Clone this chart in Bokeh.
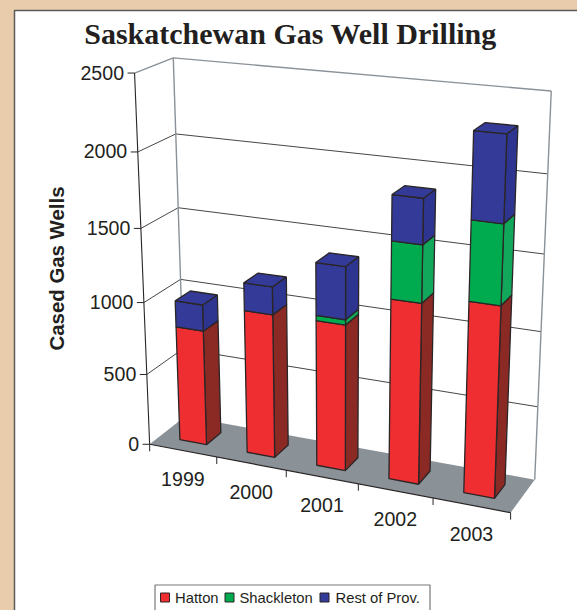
import numpy as np
from bokeh.plotting import figure
from bokeh.models import Range1d
from bokeh.core.properties import value
from bokeh.embed import file_html
from bokeh.resources import INLINE

years = ["1999", "2000", "2001", "2002", "2003"]
hatton = [805, 990, 995, 1209, 1265]
shackleton = [0, 0, 35, 372, 508]
rest = [180, 187, 348, 290, 538]
y_ticks = [0, 500, 1000, 1500, 2000, 2500]
series_names = ["Hatton", "Shackleton", "Rest of Prov."]
title = "Saskatchewan Gas Well Drilling"
y_title = "Cased Gas Wells"

FRONT = ["#ee2e30", "#00ab4f", "#333a97"]
SIDE = ["#8b2a24", "#12a85c", "#2e3590"]
EDGE = "#2a2526"
GRID = "#33302f"
WALL = "#8a9298"
FLOOR = "#8a9298"
TAN = "#e8ccab"
SANS = value("Liberation Sans")
SERIF = value("Liberation Serif")

# camera calibration: (category, value, depth) -> pixel, solved for a 3x4 perspective matrix
cal = [
    (0, 2500, 0, 134, 73), (0, 2000, 0, 136.7, 150.7), (0, 1500, 0, 140.7, 228.3),
    (0, 1000, 0, 144, 302.3), (0, 500, 0, 146, 373.3), (0, 0, 0, 149.3, 444),
    (0, 2500, 1, 172.5, 57), (0, 2000, 1, 175, 133.3), (0, 1500, 1, 178.3, 207.7),
    (0, 1000, 1, 180.5, 279), (0, 0, 1, 184, 416),
    (5, 2500, 1, 551, 91), (5, 2000, 1, 547.3, 173.3), (5, 1500, 1, 543.3, 253.3),
    (5, 1000, 1, 540.7, 330.7), (5, 500, 1, 537.3, 406.7), (5, 0, 1, 534.3, 479),
    (5, 0, 0, 510.7, 512.3), (1, 0, 0, 216.7, 456.7), (2, 0, 0, 285, 469.6),
    (3, 0, 0, 358, 483.3), (4, 0, 0, 432, 497.3),
]
rows = []
for u, v, w, px, py in cal:
    X = [u / 5, v / 2500, w, 1]
    a, b = px / 500, py / 500
    rows.append(X + [0, 0, 0, 0] + [-a * c for c in X])
    rows.append([0, 0, 0, 0] + X + [-b * c for c in X])
P = np.linalg.svd(np.array(rows))[2][-1].reshape(3, 4)


def proj(u, v, w):
    h = P @ np.array([u / 5, v / 2500, w, 1.0])
    return h[0] / h[2] * 500, h[1] / h[2] * 500


def poly(pts):
    q = [proj(*t) for t in pts]
    return [a for a, _ in q], [b for _, b in q]


p = figure(width=577, height=610, x_range=Range1d(0, 577), y_range=Range1d(610, 0),
           toolbar_location=None, output_backend="svg", min_border=0,
           background_fill_color=TAN, border_fill_color=TAN, outline_line_color=None)
p.axis.visible = False
p.grid.visible = False

# panel
p.quad(left=14, right=590, top=10, bottom=620, fill_color="white", line_color="#5a5a5a", line_width=1.5)

# wall gridlines
for t in y_ticks[1:-1]:
    xs, ys = poly([(0, t, 0), (0, t, 1), (5, t, 1)])
    p.line(xs, ys, line_color=GRID, line_width=0.9)
top = y_ticks[-1]
xs, ys = poly([(0, top, 0), (0, top, 1), (5, top, 1)])
p.line(xs, ys, line_color=WALL, line_width=1.4)
xs, ys = poly([(0, 0, 1), (0, top, 1)])
p.line(xs, ys, line_color=WALL, line_width=1.4)
xs, ys = poly([(5, 0, 1), (5, top, 1)])
p.line(xs, ys, line_color=WALL, line_width=1.4)

# floor
xs, ys = poly([(0, 0, 0), (0, 0, 1), (5, 0, 1), (5, 0, 0)])
p.patch(xs, ys, fill_color=FLOOR, line_color=None)
xs, ys = poly([(0, 0, 0), (5, 0, 0)])
p.line(xs, ys, line_color=EDGE, line_width=1.2)

# value axis
xs, ys = poly([(0, 0, 0), (0, top, 0)])
p.line(xs, ys, line_color=EDGE, line_width=1.1)
for t in y_ticks:
    x0, y0 = proj(0, t, 0)
    p.line([x0 - 7, x0], [y0, y0], line_color=EDGE, line_width=1)
    p.text([x0 - 10.5], [y0 - 0.5], text=[str(t)], text_font=SANS, text_font_size=value("19.6px"),
           text_color="#231f20", text_align="right", text_baseline="middle")

# category axis
for i in range(len(years) + 1):
    x0, y0 = proj(i, 0, 0)
    p.line([x0, x0], [y0, y0 + 7], line_color=EDGE, line_width=1)
for i, yr in enumerate(years):
    x0, y0 = proj(i + 0.5, 0, 0)
    p.text([x0], [y0 + 28.5], text=[yr], text_font=SANS, text_font_size=value("19.6px"),
           text_color="#231f20", text_align="center", text_baseline="middle")

# bars
U0, U1, W0, W1 = 0.3, 0.7, 0.29, 0.71
for i in range(len(years)):
    base = 0
    vals = [hatton[i], shackleton[i], rest[i]]
    for s, val in enumerate(vals):
        if val <= 0:
            continue
        t = base + val
        u0, u1 = i + U0, i + U1
        xs, ys = poly([(u1, base, W0), (u1, base, W1), (u1, t, W1), (u1, t, W0)])
        p.patch(xs, ys, fill_color=SIDE[s], line_color=EDGE, line_width=1.3)
        xs, ys = poly([(u0, base, W0), (u1, base, W0), (u1, t, W0), (u0, t, W0)])
        p.patch(xs, ys, fill_color=FRONT[s], line_color=EDGE, line_width=1.3)
        if s == len(vals) - 1:
            xs, ys = poly([(u0, t, W0), (u1, t, W0), (u1, t, W1), (u0, t, W1)])
            p.patch(xs, ys, fill_color=FRONT[s], line_color=EDGE, line_width=1.3)
        base = t

# texts
p.text([290], [33], text=[title], text_font=SERIF, text_font_style="bold", text_font_size=value("30px"),
       text_color="#231f20", text_align="center", text_baseline="middle")
p.text([56], [268], text=[y_title], text_font=SANS, text_font_style="bold", text_font_size=value("20.4px"),
       text_color="#231f20", text_align="center", text_baseline="middle", angle=np.pi / 2)

# legend
p.quad(left=154.5, right=429.5, top=584.5, bottom=620, fill_color="white", line_color="#77787b", line_width=1.2)
for name, sx, tx, c in zip(series_names, [160, 224.5, 319.5], [174.5, 239, 335], FRONT):
    p.quad(left=sx, right=sx + 9, top=592.5, bottom=601.5, fill_color=c, line_color=EDGE, line_width=1)
    p.text([tx], [597], text=[name], text_font=SANS, text_font_size=value("14.8px"),
           text_color="#231f20", text_align="left", text_baseline="middle")

html = file_html(p, INLINE)
html = html.replace("<body>", '<body style="margin:0;overflow:hidden;background:%s">' % TAN)
open("out.html", "w").write(html)
